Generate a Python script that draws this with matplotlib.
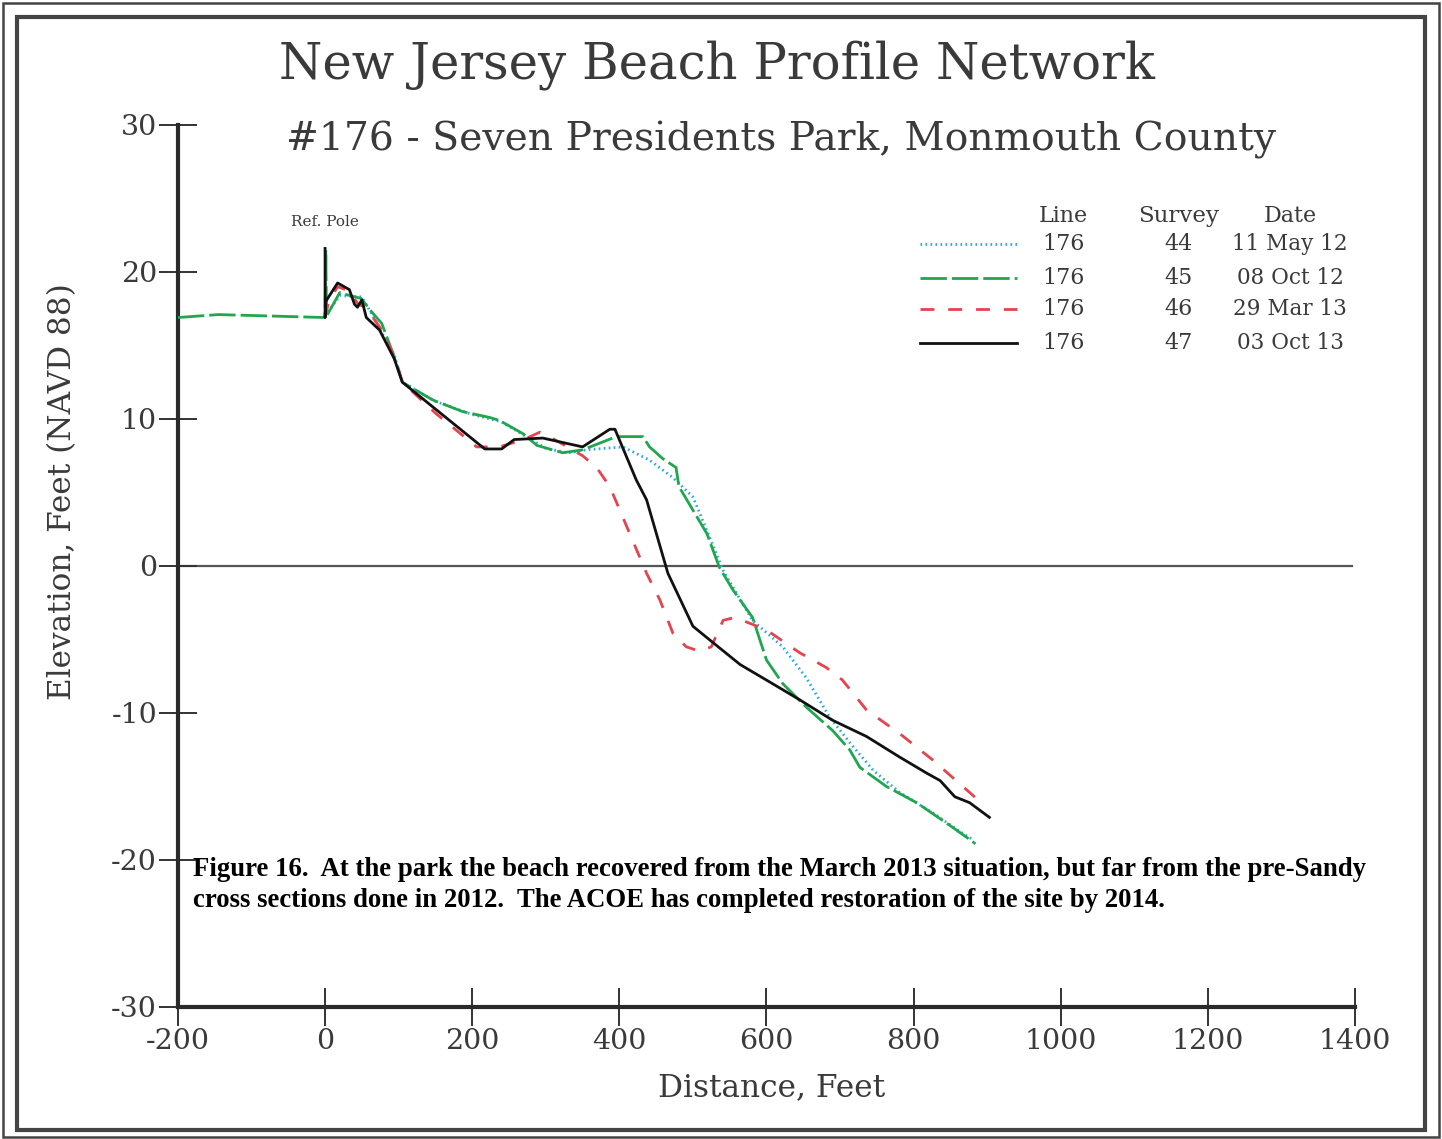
import matplotlib
matplotlib.use('Agg')
import matplotlib.pyplot as plt
from matplotlib.patches import Rectangle

# profile #176, empat survey (jarak ft, elevasi ft NAVD88)
dist_44 = [0, 20, 50, 65, 95, 105, 150, 200, 240, 270, 300, 330, 355, 405, 441, 473, 500, 519, 541, 581, 622, 654, 686, 713, 745, 781, 826, 867, 880]
elev_44 = [17.0, 18.4, 18.3, 17.0, 14.2, 12.5, 11.2, 10.3, 9.8, 8.9, 8.0, 7.7, 7.9, 8.1, 7.2, 6.0, 4.7, 2.4, -0.3, -3.7, -5.5, -7.6, -10.3, -12.0, -13.9, -15.4, -16.8, -18.2, -18.6]

dist_45 = [-200, -145, 0, 1, 2, 20, 33, 49, 63, 77, 92, 105, 146, 187, 224, 237, 269, 288, 323, 350, 396, 432, 441, 459, 477, 481, 500, 519, 536, 554, 581, 600, 622, 654, 690, 713, 727, 763, 804, 845, 876, 884]
elev_45 = [16.9, 17.1, 16.9, 21.5, 17.0, 18.6, 18.4, 18.2, 17.3, 16.5, 14.5, 12.5, 11.3, 10.5, 10.1, 9.9, 9.0, 8.2, 7.7, 7.9, 8.8, 8.8, 8.1, 7.3, 6.7, 5.4, 3.8, 2.2, -0.1, -1.6, -3.5, -6.4, -8.0, -9.6, -11.2, -12.5, -13.7, -15.0, -16.1, -17.5, -18.6, -18.9]

dist_46 = [0, 5, 17, 33, 45, 55, 75, 95, 105, 150, 206, 237, 270, 292, 301, 319, 350, 369, 387, 437, 455, 473, 491, 509, 525, 541, 557, 600, 645, 681, 703, 736, 781, 826, 885]
elev_46 = [16.9, 18.0, 19.0, 18.7, 17.8, 17.6, 16.2, 14.2, 12.5, 10.4, 8.1, 8.1, 8.6, 9.1, 8.9, 8.4, 7.5, 6.7, 5.4, -0.5, -2.3, -4.6, -5.5, -5.8, -5.5, -3.7, -3.5, -4.35, -5.9, -6.9, -7.75, -9.8, -11.4, -13.2, -15.8]

dist_47 = [0, 0, 1, 17, 33, 40, 44, 50, 56, 74, 94, 105, 217, 240, 257, 296, 350, 387, 394, 423, 437, 466, 500, 527, 564, 608, 645, 690, 736, 781, 818, 836, 856, 876, 903]
elev_47 = [21.6, 16.9, 18.0, 19.25, 18.8, 17.8, 17.6, 18.1, 16.9, 16.05, 14.1, 12.5, 7.96, 7.96, 8.6, 8.7, 8.1, 9.3, 9.3, 5.85, 4.5, -0.5, -4.1, -5.2, -6.7, -8.0, -9.1, -10.5, -11.6, -13.0, -14.1, -14.6, -15.7, -16.1, -17.1]

line_no = ['176', '176', '176', '176']
surveys = ['44', '45', '46', '47']
dates = ['11 May 12', '08 Oct 12', '29 Mar 13', '03 Oct 13']

x_ticks = [-200, 0, 200, 400, 600, 800, 1000, 1200, 1400]
y_ticks = [-30, -20, -10, 0, 10, 20, 30]

caption = ('Figure 16.  At the park the beach recovered from the March 2013 situation, but far from the pre-Sandy\n'
           'cross sections done in 2012.  The ACOE has completed restoration of the site by 2014.')

plt.rcParams['font.family'] = ['DejaVu Serif']
teks = '#3a3a3a'

fig = plt.figure(figsize=(14.42, 11.39), dpi=100)
ax = fig.add_axes([0.1234, 0.1159, 0.8163, 0.7744])

# gaya garis tiap survey
gaya = [
    dict(color='#2aa9e0', lw=2.0, ls=(0, (0.6, 1.2))),
    dict(color='#1fa64f', lw=2.0, ls=(0, (9.5, 1.8))),
    dict(color='#e6434d', lw=2.0, ls=(0, (5, 5))),
    dict(color='#111111', lw=2.0, ls='-'),
]
data = [(dist_44, elev_44), (dist_45, elev_45), (dist_46, elev_46), (dist_47, elev_47)]

ax.axhline(0, xmin=0, xmax=(1396 + 200) / 1600, color='#555555', lw=1.6, zorder=1)

for (d, e), g in zip(data, gaya):
    ax.plot(d, e, color=g['color'], lw=g['lw'], ls=g['ls'], zorder=3)

ax.set_xlim(-200, 1400)
ax.set_ylim(-30, 30)
ax.set_xticks(x_ticks)
ax.set_yticks(y_ticks)
ax.set_xticklabels([str(v) for v in x_ticks])
ax.set_yticklabels([str(v) for v in y_ticks])
ax.tick_params(axis='both', direction='inout', length=28, width=1.4, colors='#333333',
               labelsize=20.5, labelcolor=teks)
ax.tick_params(axis='x', pad=1)
ax.tick_params(axis='y', pad=1)
for s in ['top', 'right']:
    ax.spines[s].set_visible(False)
for s in ['left', 'bottom']:
    ax.spines[s].set_linewidth(3)
    ax.spines[s].set_color('#2a2a2a')

ax.set_xlabel('Distance, Feet', fontsize=22.5, color=teks)
ax.xaxis.set_label_coords(0.5045, -0.074)
fig.text(0.0437, 0.568, 'Elevation, Feet (NAVD 88)', fontsize=22.4, color=teks,
         rotation=90, ha='center', va='center')

ax.text(0, 23.4, 'Ref. Pole', fontsize=11, color=teks, ha='center', va='center')

# tabel legenda
ax.text(0.752, 0.897, 'Line', transform=ax.transAxes, fontsize=16, color=teks, ha='center', va='center')
ax.text(0.850, 0.897, 'Survey', transform=ax.transAxes, fontsize=16.5, color=teks, ha='center', va='center')
ax.text(0.945, 0.897, 'Date', transform=ax.transAxes, fontsize=16, color=teks, ha='center', va='center')
baris_y = [0.865, 0.8265, 0.791, 0.753]
for i, g in enumerate(gaya):
    yy = baris_y[i]
    ax.plot([0.630, 0.713], [yy, yy], transform=ax.transAxes, color=g['color'], lw=g['lw'], ls=g['ls'])
    ax.text(0.752, yy, line_no[i], transform=ax.transAxes, fontsize=16, color=teks, ha='center', va='center')
    ax.text(0.850, yy, surveys[i], transform=ax.transAxes, fontsize=16, color=teks, ha='center', va='center')
    ax.text(0.945, yy, dates[i], transform=ax.transAxes, fontsize=15.5, color=teks, ha='center', va='center')

ax.text(0.0127, 0.170, caption, transform=ax.transAxes, fontsize=19.3, fontweight='bold',
        family='Liberation Serif', color='black', ha='left', va='top', linespacing=1.3)

fig.text(0.497, 0.943, 'New Jersey Beach Profile Network', fontsize=35.8, color=teks, ha='center', va='center')
fig.text(0.5416, 0.877, '#176 - Seven Presidents Park, Monmouth County', fontsize=28.3, color=teks,
         ha='center', va='center')

# bingkai ganda
fig.add_artist(Rectangle((0.0118, 0.0079), 0.9764, 0.9771, transform=fig.transFigure,
                         fill=False, lw=3, edgecolor='#444444'))
fig.add_artist(Rectangle((0.002, 0.002), 0.996, 0.995, transform=fig.transFigure,
                         fill=False, lw=1.8, edgecolor='#444444'))

fig.savefig('out.png', dpi=100)
